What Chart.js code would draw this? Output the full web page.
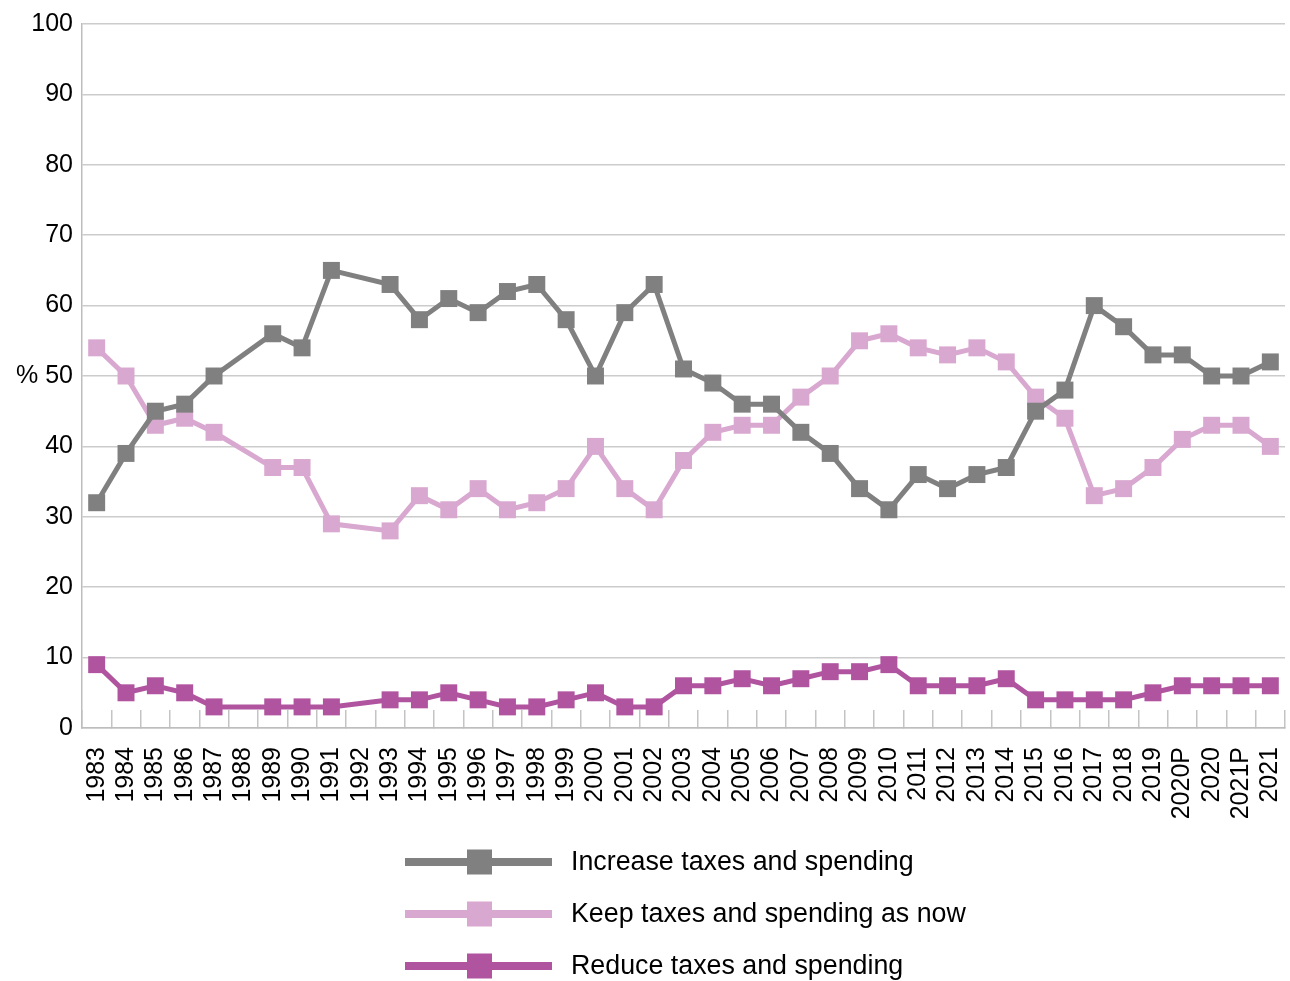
<!DOCTYPE html>
<html>
<head>
<meta charset="utf-8">
<script src="https://cdn.jsdelivr.net/npm/chart.js@4/dist/chart.umd.min.js"></script>
<style>
  html, body { margin: 0; padding: 0; background: #fff; }
  #wrap { width: 1290px; height: 981px; position: relative; }
</style>
</head>
<body>
<div id="wrap"><canvas id="c" width="1290" height="981"></canvas></div>
<script>
const categories = ['1983','1984','1985','1986','1987','1988','1989','1990','1991','1992','1993','1994','1995','1996','1997','1998','1999','2000','2001','2002','2003','2004','2005','2006','2007','2008','2009','2010','2011','2012','2013','2014','2015','2016','2017','2018','2019','2020P','2020','2021P','2021'];

const increaseValues = [32,39,45,46,50,null,56,54,65,null,63,58,61,59,62,63,58,50,59,63,51,49,46,46,42,39,34,31,36,34,36,37,45,48,60,57,53,53,50,50,52];
const keepValues     = [54,50,43,44,42,null,37,37,29,null,28,33,31,34,31,32,34,40,34,31,38,42,43,43,47,50,55,56,54,53,54,52,47,44,33,34,37,41,43,43,40];
const reduceValues   = [9,5,6,5,3,null,3,3,3,null,4,4,5,4,3,3,4,5,3,3,6,6,7,6,7,8,8,9,6,6,6,7,4,4,4,4,5,6,6,6,6];

const seriesLabels = ['Increase taxes and spending','Keep taxes and spending as now','Reduce taxes and spending'];
const yTickValues = [0,10,20,30,40,50,60,70,80,90,100];
const yUnitLabel = '%';

const colors = ['#808080', '#D9A8D0', '#B054A0'];
const FONT = '"Liberation Sans", Arial, Helvetica, sans-serif';

function ds(label, data, color) {
  return {
    label: label,
    data: data,
    borderColor: color,
    backgroundColor: color,
    borderWidth: 5,
    tension: 0,
    spanGaps: true,
    pointStyle: 'rect',
    pointRadius: 12,
    pointHoverRadius: 12,
    pointBorderWidth: 0,
    pointBackgroundColor: color
  };
}

const legendPlugin = {
  id: 'customLegend',
  afterDraw(chart) {
    const ctx = chart.ctx;
    const x0 = 405, x1 = 552, sq = 25, textX = 571;
    const ys = [862, 914, 966];
    ctx.save();
    chart.data.datasets.forEach((d, i) => {
      const y = ys[i];
      ctx.strokeStyle = d.borderColor;
      ctx.lineWidth = 8;
      ctx.lineCap = 'butt';
      ctx.beginPath();
      ctx.moveTo(x0, y);
      ctx.lineTo(x1, y);
      ctx.stroke();
      ctx.fillStyle = d.borderColor;
      ctx.fillRect((x0 + x1) / 2 - sq / 2 + 1, y - sq / 2, sq, sq);
      ctx.fillStyle = '#000';
      ctx.font = '26.8px ' + FONT;
      ctx.textBaseline = 'middle';
      ctx.textAlign = 'left';
      ctx.fillText(d.label, textX, y + 1);
    });
    ctx.restore();
  }
};

new Chart(document.getElementById('c'), {
  type: 'line',
  data: {
    labels: categories,
    datasets: [
      ds(seriesLabels[0], increaseValues, colors[0]),
      ds(seriesLabels[1], keepValues, colors[1]),
      ds(seriesLabels[2], reduceValues, colors[2])
    ]
  },
  plugins: [legendPlugin],
  options: {
    responsive: false,
    animation: false,
    events: [],
    layout: { autoPadding: false, padding: { top: 24, right: 5, bottom: 150, left: 0 } },
    plugins: {
      legend: { display: false },
      tooltip: { enabled: false }
    },
    scales: {
      x: {
        type: 'category',
        offset: true,
        grid: {
          offset: true,
          drawOnChartArea: false,
          drawTicks: true,
          tickLength: -18,
          color: '#c4c4c4',
          lineWidth: 1.5
        },
        border: { display: true, color: '#bdbdbd', width: 1.5 },
        ticks: {
          autoSkip: false,
          minRotation: 90,
          maxRotation: 90,
          padding: 37,
          color: '#000',
          font: { family: FONT, size: 25 }
        },
        afterFit(scale) {
          scale.height = 103;
          scale.paddingLeft = 0;
          scale.paddingRight = 0;
        }
      },
      y: {
        min: 0,
        max: 100,
        afterBuildTicks(scale) { scale.ticks = yTickValues.map(v => ({ value: v })); },
        grid: {
          drawTicks: false,
          color: '#cccccc',
          lineWidth: 1.5
        },
        border: { display: true, color: '#bdbdbd', width: 1.5 },
        ticks: {
          padding: 9,
          color: '#000',
          font: { family: FONT, size: 25 },
          callback: (v) => v === 50 ? yUnitLabel + ' ' + v : String(v)
        },
        afterFit(scale) { scale.width = 82; }
      }
    }
  }
});
</script>
</body>
</html>
